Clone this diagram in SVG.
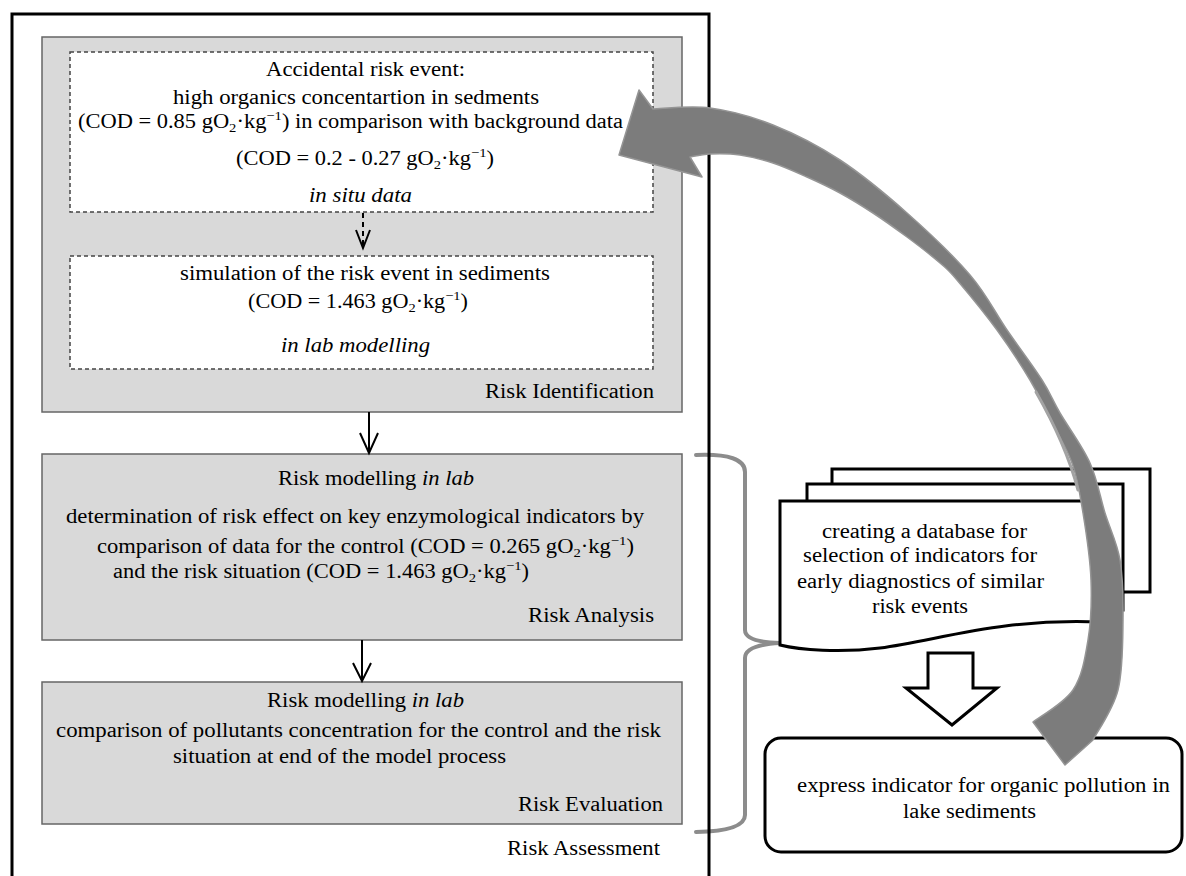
<svg xmlns="http://www.w3.org/2000/svg" width="1186" height="876" viewBox="0 0 1186 876">
<style>
text{font-family:"Liberation Serif","Times New Roman",serif;font-size:20px;fill:#000}
.it{font-style:italic}
.sub{font-size:13px}
.gbox{fill:#d9d9d9;stroke:#666;stroke-width:1.5}
.dbox{fill:#fff;stroke:#444;stroke-width:1.5;stroke-dasharray:4 3}
.ln{fill:none;stroke:#000;stroke-width:2}
.blk{fill:#fff;stroke:#000;stroke-width:3}
.brace{fill:none;stroke:#8c8c8c;stroke-width:4;stroke-linecap:round}
</style>
<rect width="1186" height="876" fill="#fff"/>

<g id="connectors">
  <path class="brace" d="M696,455 Q745,453 745,472 L745,630 Q745,642 780,643 Q745,645 745,658 L745,815 Q745,831 696,832"/>
</g>

<path id="frame" d="M12,880 V14 H709 V880" fill="none" stroke="#000" stroke-width="3"/>

<g id="risk-identification">
  <rect class="gbox" x="42" y="37" width="640" height="375"/>
  <text x="485" y="398" textLength="169" lengthAdjust="spacingAndGlyphs">Risk Identification</text>
</g>

<g id="in-situ">
  <rect class="dbox" x="70" y="52" width="583" height="160"/>
  <text x="266" y="76" textLength="199" lengthAdjust="spacingAndGlyphs">Accidental risk event:</text>
  <text x="173" y="104" textLength="366" lengthAdjust="spacingAndGlyphs">high organics concentartion in sedments</text>
  <text x="78" y="128" textLength="545" lengthAdjust="spacingAndGlyphs">(COD = 0.85 gO<tspan class="sub" dy="4">2</tspan><tspan dy="-4">·kg</tspan><tspan class="sub" dy="-8">−1</tspan><tspan dy="8">) in comparison with background data</tspan></text>
  <text x="236" y="165" textLength="258" lengthAdjust="spacingAndGlyphs">(COD = 0.2 - 0.27 gO<tspan class="sub" dy="4">2</tspan><tspan dy="-4">·kg</tspan><tspan class="sub" dy="-8">−1</tspan><tspan dy="8">)</tspan></text>
  <text class="it" x="309" y="202" textLength="103" lengthAdjust="spacingAndGlyphs">in situ data</text>
</g>

<g id="in-lab">
  <rect class="dbox" x="70" y="256" width="583" height="113"/>
  <text x="180" y="280" textLength="370" lengthAdjust="spacingAndGlyphs">simulation of the risk event in sediments</text>
  <text x="248" y="308" textLength="220" lengthAdjust="spacingAndGlyphs">(COD = 1.463 gO<tspan class="sub" dy="4">2</tspan><tspan dy="-4">·kg</tspan><tspan class="sub" dy="-8">−1</tspan><tspan dy="8">)</tspan></text>
  <text class="it" x="281" y="352" textLength="149" lengthAdjust="spacingAndGlyphs">in lab modelling</text>
</g>

<g id="risk-analysis">
  <rect class="gbox" x="42" y="454" width="640" height="186"/>
  <text x="278" y="485" textLength="196" lengthAdjust="spacingAndGlyphs">Risk modelling <tspan class="it">in lab</tspan></text>
  <text x="66" y="523" textLength="578" lengthAdjust="spacingAndGlyphs">determination of risk effect on key enzymological indicators by</text>
  <text x="97" y="553" textLength="537" lengthAdjust="spacingAndGlyphs">comparison of data for the control (COD = 0.265 gO<tspan class="sub" dy="4">2</tspan><tspan dy="-4">·kg</tspan><tspan class="sub" dy="-8">−1</tspan><tspan dy="8">)</tspan></text>
  <text x="113" y="578" textLength="416" lengthAdjust="spacingAndGlyphs">and the risk situation (COD = 1.463 gO<tspan class="sub" dy="4">2</tspan><tspan dy="-4">·kg</tspan><tspan class="sub" dy="-8">−1</tspan><tspan dy="8">)</tspan></text>
  <text x="528" y="622" textLength="126" lengthAdjust="spacingAndGlyphs">Risk Analysis</text>
</g>

<g id="risk-evaluation">
  <rect class="gbox" x="42" y="682" width="640" height="142"/>
  <text x="267" y="707" textLength="197" lengthAdjust="spacingAndGlyphs">Risk modelling <tspan class="it">in lab</tspan></text>
  <text x="56" y="737" textLength="605" lengthAdjust="spacingAndGlyphs">comparison of pollutants concentration for the control and the risk</text>
  <text x="173" y="763" textLength="333" lengthAdjust="spacingAndGlyphs">situation at end of the model process</text>
  <text x="518" y="811" textLength="145" lengthAdjust="spacingAndGlyphs">Risk Evaluation</text>
</g>

<g id="risk-assessment">
  <text x="507" y="855" textLength="153" lengthAdjust="spacingAndGlyphs">Risk Assessment</text>
</g>

<g id="database">
  <rect class="blk" x="832" y="469" width="318" height="123"/>
  <rect class="blk" x="807" y="484" width="316" height="126"/>
  <path class="blk" d="M780,501 H1100 V622 C1000,618 940,640 880,648 C840,653 800,650 780,645 Z"/>
  <text x="822" y="538" textLength="205" lengthAdjust="spacingAndGlyphs">creating a database for</text>
  <text x="803" y="562" textLength="234" lengthAdjust="spacingAndGlyphs">selection of indicators for</text>
  <text x="797" y="588" textLength="247" lengthAdjust="spacingAndGlyphs">early diagnostics of similar</text>
  <text x="872" y="613" textLength="96" lengthAdjust="spacingAndGlyphs">risk events</text>
</g>

<g id="express-indicator">
  <rect class="blk" x="765" y="738" width="417" height="114" rx="16"/>
  <text x="797" y="792" textLength="373" lengthAdjust="spacingAndGlyphs">express indicator for organic pollution in</text>
  <text x="903" y="818" textLength="133" lengthAdjust="spacingAndGlyphs">lake sediments</text>
</g>

<g id="arrows">
  <line x1="363" y1="213" x2="363" y2="246" stroke="#000" stroke-width="2" stroke-dasharray="5 4"/>
  <polyline class="ln" points="356,230 363,248 370,230"/>
  <line class="ln" x1="369" y1="412" x2="369" y2="452"/>
  <polyline class="ln" points="360,433 369,453 378,433"/>
  <line class="ln" x1="362" y1="640" x2="362" y2="680"/>
  <polyline class="ln" points="353,663 362,681 371,663"/>
  <path class="blk" d="M928,653 H973 V688 H997 L952,725 L906,688 H928 Z"/>
  <path fill="#7c7c7c" stroke="#959595" stroke-width="1.5" stroke-linejoin="round" d="M653,109 C662.5,108.8 690,105.3 710,108 C730,110.7 751.3,116.3 773,125 C794.7,133.7 817.7,145.3 840,160 C862.3,174.7 885.3,193.8 907,213 C928.7,232.2 953.3,255.5 970,275 C986.7,294.5 995,312.5 1007,330 C1019,347.5 1033.2,366.2 1042,380 C1050.8,393.8 1052,399.2 1060,413 C1068,426.8 1082.5,446.3 1090,463 C1097.5,479.7 1100,496.8 1105,513 C1110,529.2 1117,542.2 1120,560 C1123,577.8 1123.3,598.3 1123,620 C1122.7,641.7 1123,670 1118,690 C1113,710 1097.2,731.7 1093,740 L1065,765 L1033,722 C1039.7,716.7 1063.8,703.7 1073,690 C1082.2,676.3 1085,658.3 1088,640 C1091,621.7 1091.8,601.2 1091,580 C1090.2,558.8 1086.2,532.5 1083,513 C1079.8,493.5 1078,479.7 1072,463 C1066,446.3 1054,426.8 1047,413 C1040,399.2 1038.3,393.8 1030,380 C1021.7,366.2 1009.2,346.7 997,330 C984.8,313.3 966.5,291.2 957,280 C947.5,268.8 948.3,270.2 940,263 C931.7,255.8 918.2,245.3 907,237 C895.8,228.7 884.2,220.3 873,213 C861.8,205.7 851,199 840,193 C829,187 818.2,182 807,177 C795.8,172 784.2,166.7 773,163 C761.8,159.3 750.5,156.5 740,155 C729.5,153.5 718.3,153.7 710,154 C701.7,154.3 693.3,156.5 690,157 L702,177 L619,155 L639,90 Z"/>
  <path fill="none" stroke="#a3a3a3" stroke-width="3" stroke-linecap="round" d="M1036,392 C1052,420 1068,452 1078,490"/>
</g>
</svg>
